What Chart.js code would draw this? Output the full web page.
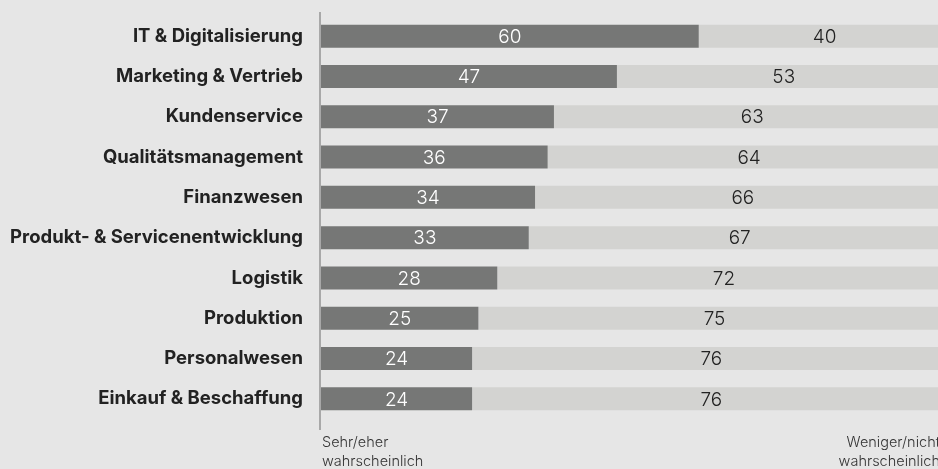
<!DOCTYPE html>
<html>
<head>
<meta charset="utf-8">
<script src="https://cdn.jsdelivr.net/npm/chart.js@4"></script>
<style>
  html, body { margin: 0; padding: 0; background: #e6e6e6; }
  #wrap { position: relative; width: 938px; height: 469px; }
</style>
</head>
<body>
<div id="wrap"><canvas id="chart" width="938" height="469"></canvas></div>
<script>
// Data
const categories = [
    'IT & Digitalisierung',
    'Marketing & Vertrieb',
    'Kundenservice',
    'Qualitätsmanagement',
    'Finanzwesen',
    'Produkt- & Servicenentwicklung',
    'Logistik',
    'Produktion',
    'Personalwesen',
    'Einkauf & Beschaffung'
];
const likely = [60, 47, 37, 36, 34, 33, 28, 25, 24, 24];
const unlikely = [40, 53, 63, 64, 66, 67, 72, 75, 76, 76];
const bottomLeftLabel = ['Sehr/eher', 'wahrscheinlich'];
const bottomRightLabel = ['Weniger/nicht', 'wahrscheinlich'];

const FONT = 'Inter, "Noto Sans", sans-serif';

// Value labels centered in each segment
const valueLabels = {
    id: 'valueLabels',
    afterDatasetsDraw(chart) {
        const ctx = chart.ctx;
        ctx.save();
        ctx.font = '300 19px ' + FONT;
        ctx.textAlign = 'center';
        ctx.textBaseline = 'middle';
        chart.data.datasets.forEach((ds, di) => {
            chart.getDatasetMeta(di).data.forEach((bar, i) => {
                ctx.fillStyle = di === 0 ? '#ffffff' : '#222222';
                const cx = (bar.x + bar.base) / 2;
                ctx.fillText(String(ds.data[i]), cx, bar.y + 1);
            });
        });
        ctx.restore();
    }
};

// Vertical axis line and bottom captions
const decorations = {
    id: 'decorations',
    afterDraw(chart) {
        const ctx = chart.ctx;
        const left = chart.chartArea.left;
        ctx.save();
        ctx.strokeStyle = '#a8a8a8';
        ctx.lineWidth = 2;
        ctx.beginPath();
        ctx.moveTo(left - 1, 12);
        ctx.lineTo(left - 1, 430);
        ctx.stroke();

        ctx.font = '300 14.5px ' + FONT;
        ctx.fillStyle = '#333333';
        ctx.textBaseline = 'middle';
        ctx.textAlign = 'left';
        bottomLeftLabel.forEach((t, i) => ctx.fillText(t, left + 1, 443 + i * 19));
        ctx.textAlign = 'right';
        bottomRightLabel.forEach((t, i) => ctx.fillText(t, 940, 443 + i * 19));
        ctx.restore();
    }
};

new Chart(document.getElementById('chart').getContext('2d'), {
    type: 'bar',
    data: {
        labels: categories,
        datasets: [
            { label: 'Sehr/eher wahrscheinlich', data: likely, backgroundColor: '#767776' },
            { label: 'Weniger/nicht wahrscheinlich', data: unlikely, backgroundColor: '#d3d3d1' }
        ]
    },
    options: {
        indexAxis: 'y',
        responsive: false,
        animation: false,
        layout: { padding: { top: 16, bottom: 50, left: 0, right: 0 } },
        datasets: { bar: { barPercentage: 0.57, categoryPercentage: 1, borderWidth: 0 } },
        plugins: { legend: { display: false }, tooltip: { enabled: false } },
        scales: {
            x: { stacked: true, min: 0, max: 98, display: false },
            y: {
                stacked: true,
                afterFit: s => { s.width = 321; s.paddingTop = 0; s.paddingBottom = 0; },
                grid: { display: false, drawTicks: false },
                border: { display: false },
                ticks: {
                    padding: 18,
                    color: '#222222',
                    font: { family: FONT, size: 18.5, weight: 'bold' }
                }
            }
        }
    },
    plugins: [valueLabels, decorations]
});
</script>
</body>
</html>
